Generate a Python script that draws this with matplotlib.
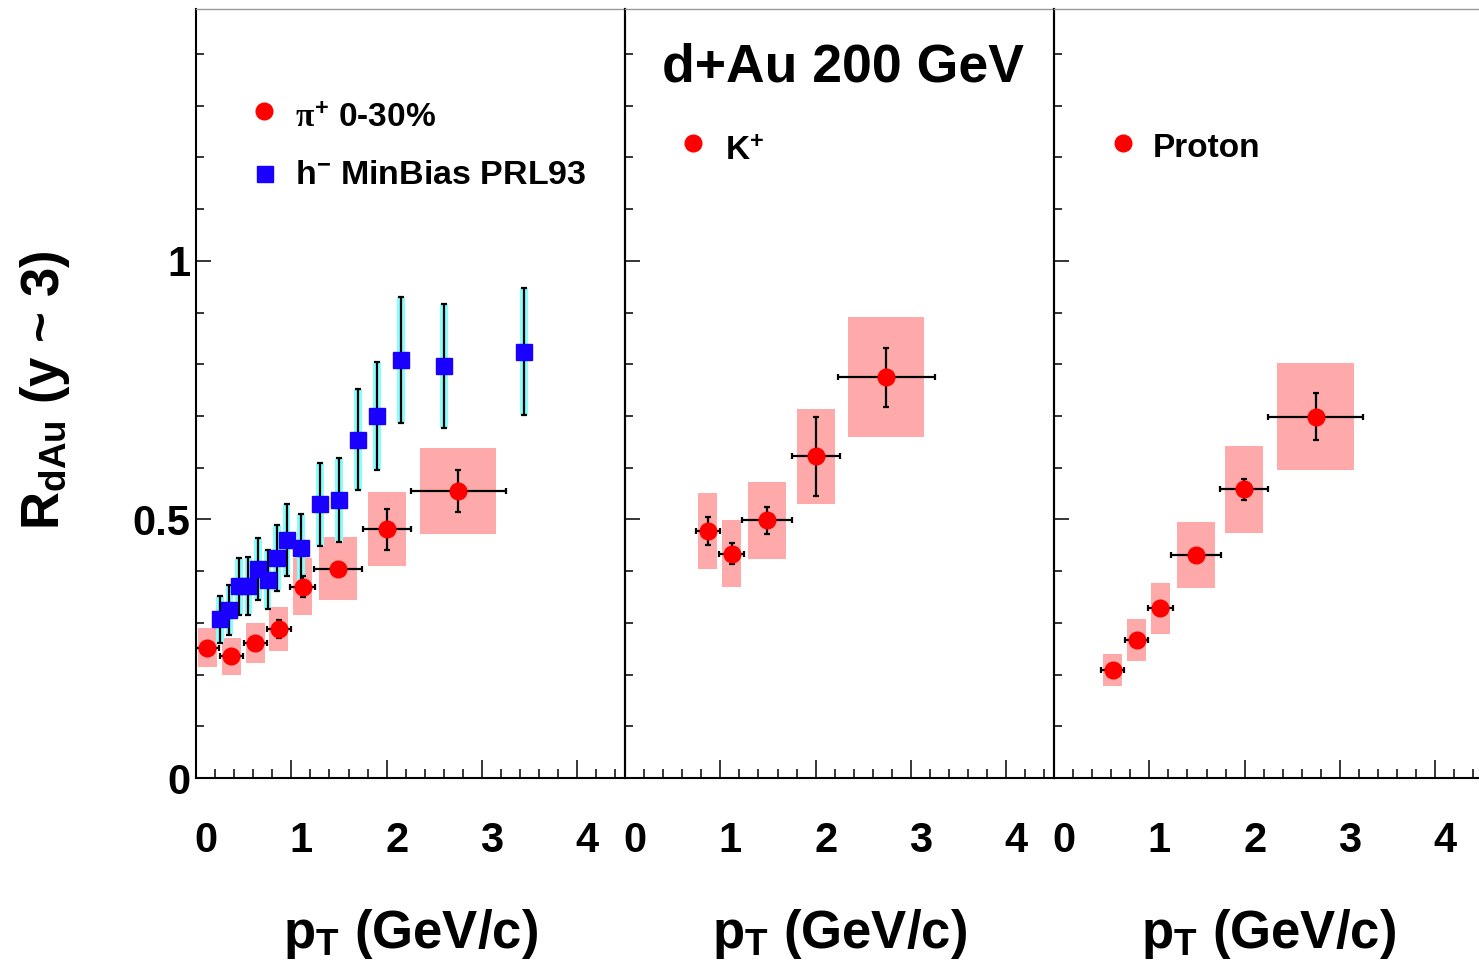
import matplotlib
matplotlib.use('Agg')
import matplotlib.pyplot as plt
from matplotlib.patches import Rectangle
from matplotlib.ticker import MultipleLocator
from matplotlib.transforms import ScaledTranslation

plt.rcParams['font.family'] = ['Liberation Sans', 'DejaVu Sans']
plt.rcParams['font.weight'] = 'bold'
plt.rcParams['mathtext.fontset'] = 'custom'
plt.rcParams['mathtext.rm'] = 'Liberation Sans:bold'
plt.rcParams['mathtext.bf'] = 'Liberation Sans:bold'
plt.rcParams['mathtext.it'] = 'Liberation Serif'

# pi+ 0-30%
pi_pt = [0.12, 0.37, 0.62, 0.87, 1.12, 1.49, 2.0, 2.75]
pi_r = [0.252, 0.235, 0.261, 0.288, 0.370, 0.405, 0.481, 0.555]
pi_stat = [0.01, 0.01, 0.01, 0.018, 0.02, 0.01, 0.04, 0.041]
pi_xerr = [0.12, 0.12, 0.12, 0.13, 0.13, 0.25, 0.25, 0.5]
pi_sys = [0.038, 0.036, 0.039, 0.043, 0.055, 0.061, 0.072, 0.083]
pi_bw = [0.1, 0.1, 0.1, 0.1, 0.1, 0.2, 0.2, 0.4]

# h- MinBias PRL93
h_pt = [0.25, 0.35, 0.45, 0.55, 0.65, 0.75, 0.85, 0.95, 1.1, 1.3, 1.5,
        1.7, 1.9, 2.15, 2.6, 3.44]
h_r = [0.307, 0.325, 0.371, 0.371, 0.405, 0.383, 0.426, 0.460, 0.444,
       0.529, 0.538, 0.654, 0.700, 0.808, 0.797, 0.824]
h_err = [0.045, 0.049, 0.055, 0.056, 0.06, 0.057, 0.064, 0.069, 0.067,
         0.08, 0.081, 0.098, 0.105, 0.122, 0.12, 0.123]

# K+
k_pt = [0.87, 1.12, 1.49, 2.0, 2.74]
k_r = [0.478, 0.434, 0.498, 0.622, 0.775]
k_stat = [0.027, 0.02, 0.026, 0.077, 0.057]
k_xerr = [0.13, 0.13, 0.26, 0.25, 0.51]
k_sys = [0.073, 0.065, 0.075, 0.092, 0.116]
k_bw = [0.1, 0.1, 0.2, 0.2, 0.4]

# proton
p_pt = [0.615, 0.867, 1.117, 1.49, 1.99, 2.744]
p_r = [0.209, 0.267, 0.328, 0.431, 0.558, 0.699]
p_stat = [0.008, 0.008, 0.008, 0.008, 0.02, 0.045]
p_xerr = [0.12, 0.12, 0.13, 0.26, 0.25, 0.5]
p_sys = [0.031, 0.04, 0.05, 0.064, 0.084, 0.104]
p_bw = [0.1, 0.1, 0.1, 0.2, 0.2, 0.4]

W, H = 1479, 968
RED = '#ff0000'
BLUE = '#1a00ff'
PINK = '#ffaaaa'
CYAN = '#88ffff'


def fx(x):
    return x / W


def fy(y):
    return 1 - y / H


def sys_boxes(ax, x, y, bw, sy, color):
    for xi, yi, wi, si in zip(x, y, bw, sy):
        ax.add_patch(Rectangle((xi - wi, yi - si), 2 * wi, 2 * si,
                               facecolor=color, edgecolor='none', zorder=1))


def red_points(ax, x, y, xerr, yerr):
    ax.errorbar(x, y, xerr=xerr, yerr=yerr, fmt='o', color=RED, ms=12,
                ecolor='black', elinewidth=1.6, capsize=2.5, capthick=1.6,
                zorder=5)


fig = plt.figure(figsize=(W / 100, H / 100), dpi=100)
lefts = [196, 625, 1054]
axes = []
for i, l in enumerate(lefts):
    ax = fig.add_axes([fx(l), fy(778), 429 / W, (778 - 9) / H])
    ax.set_xlim(0, 4.5)
    ax.set_ylim(0, 1.487)
    ax.xaxis.set_major_locator(MultipleLocator(1))
    ax.xaxis.set_minor_locator(MultipleLocator(0.2))
    ax.yaxis.set_major_locator(MultipleLocator(0.5))
    ax.yaxis.set_minor_locator(MultipleLocator(0.1))
    ax.set_xticks([0, 1, 2, 3, 4])
    ax.set_xticklabels(['0', '1', '2', '3', '4'])
    ax.tick_params(axis='both', which='both', direction='in', width=1.1,
                   top=False, right=False, labelsize=30)
    ax.tick_params(axis='x', which='major', length=13, pad=31)
    ax.tick_params(axis='x', which='minor', length=6.5)
    ax.tick_params(axis='y', which='major', length=11, pad=4)
    ax.tick_params(axis='y', which='minor', length=5.5)
    if i > 0:
        ax.tick_params(axis='y', labelleft=False)
    else:
        ax.set_yticks([0, 0.5, 1])
        ax.set_yticklabels(['0', '0.5', '1'])
    for lab in ax.get_xticklabels():
        lab.set_transform(lab.get_transform() +
                          ScaledTranslation(0.1, 0, fig.dpi_scale_trans))
    for side in ['left', 'right', 'bottom']:
        ax.spines[side].set_linewidth(1.5)
    ax.spines['top'].set_color('#999999')
    ax.spines['top'].set_linewidth(1)
    ax.patch.set_alpha(0)
    axes.append(ax)

ax1, ax2, ax3 = axes

# left panel
sys_boxes(ax1, pi_pt, pi_r, pi_bw, pi_sys, PINK)
sys_boxes(ax1, h_pt, h_r, [0.04] * len(h_pt), h_err, CYAN)
ax1.errorbar(h_pt, h_r, yerr=h_err, fmt='s', color=BLUE, ms=12,
             ecolor='black', elinewidth=1.6, capsize=2.5, capthick=1.6,
             zorder=4)
red_points(ax1, pi_pt, pi_r, pi_xerr, pi_stat)

# middle panel
sys_boxes(ax2, k_pt, k_r, k_bw, k_sys, PINK)
red_points(ax2, k_pt, k_r, k_xerr, k_stat)

# right panel
sys_boxes(ax3, p_pt, p_r, p_bw, p_sys, PINK)
red_points(ax3, p_pt, p_r, p_xerr, p_stat)

# legends
fig.add_artist(plt.Line2D([fx(264)], [fy(111)], marker='o', color=RED, ms=12))
fig.add_artist(plt.Line2D([fx(265)], [fy(174)], marker='s', color=BLUE, ms=11.5))
fig.add_artist(plt.Line2D([fx(693)], [fy(143)], marker='o', color=RED, ms=12))
fig.add_artist(plt.Line2D([fx(1123)], [fy(143)], marker='o', color=RED, ms=12))
fig.text(fx(295), fy(127), r'$\pi^{+}$ 0-30%', fontsize=24, va='baseline')
fig.text(fx(295), fy(184), r'$\mathbf{h}^{\mathbf{-}}$ MinBias PRL93',
         fontsize=24.5, va='baseline')
fig.text(fx(725), fy(160), r'$\mathbf{K}^{\mathbf{+}}$', fontsize=24,
         va='baseline')
fig.text(fx(1153), fy(157), 'Proton', fontsize=24, va='baseline')

fig.text(fx(662), fy(82), 'd+Au 200 GeV', fontsize=38.5, va='baseline')

for l in lefts:
    fig.text(fx(l + 214.5), fy(948), r'$\mathbf{p}_{\mathbf{T}}$ (GeV/c)',
             fontsize=38, ha='center', va='baseline')

fig.text(fx(45), fy(390), r'$\mathbf{R}_{\mathbf{dAu}}$ (y ~ 3)',
         fontsize=38, rotation=90, ha='center', va='center')

fig.savefig('out.png', dpi=100)
